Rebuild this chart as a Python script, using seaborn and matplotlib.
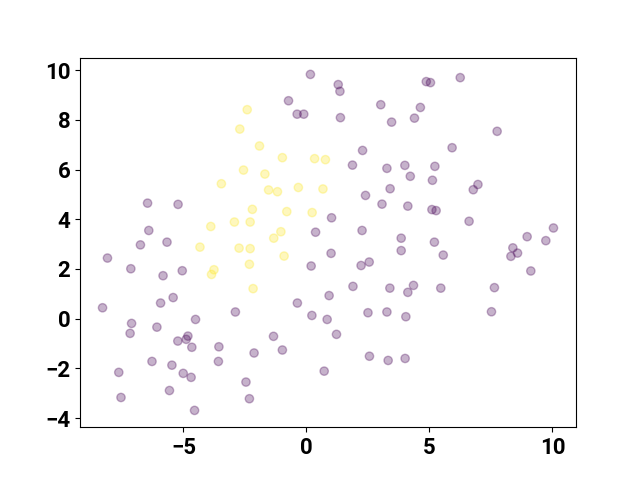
import pandas as pd
import matplotlib
matplotlib.use("Agg")
import matplotlib.pyplot as plt
import seaborn as sns

# --- data ---
# cluster 1 (yellow)
yellow_x = [-2.41, -2.71, -1.91, -0.98, 0.33, 0.77, -2.56, -1.69, -3.46, -1.54,
            -1.18, -0.33, 0.67, -2.20, -0.80, 0.23, -2.93, -2.29, -3.89, -1.04,
            -1.33, -4.33, -2.74, -2.29, -3.76, -3.86, -2.32, -0.91, -2.17]
yellow_y = [8.41, 7.63, 6.95, 6.48, 6.44, 6.40, 5.98, 5.82, 5.43, 5.18,
            5.11, 5.28, 5.22, 4.40, 4.31, 4.27, 3.89, 3.89, 3.71, 3.50,
            3.24, 2.88, 2.84, 2.82, 1.97, 1.78, 2.19, 2.52, 1.21]

# cluster 0 (purple)
purple_x = [0.16, -0.73, -0.38, -0.11, -6.46, -5.22, 1.02, -6.41, 0.37, -6.75,
            -5.67, -8.09, -7.14, -5.05, -5.83, 0.19, 1.00, -5.42, -5.93, -0.37,
            0.92, -8.29, -2.89, 0.22, 0.84, -4.51, -7.11, -6.08, -7.17, -4.82,
            -4.89, -5.23, -4.66, -3.56, -1.34, -0.98, -2.13, -6.28, -3.58, -5.47,
            -7.63, -5.01, -4.69, 0.72, -2.46, -5.57, -7.54, -2.32, -4.55, 1.29,
            1.36, 4.87, 5.04, 6.25, 3.02, 4.63, 1.38, 3.46, 4.39, 7.75,
            2.28, 5.92, 1.87, 3.27, 4.00, 5.22, 4.22, 5.12, 6.97, 6.78,
            2.40, 3.40, 3.07, 4.12, 5.10, 5.27, 6.61, 2.26, 3.85, 5.20,
            10.04, 8.97, 9.73, 8.39, 3.85, 5.56, 8.58, 8.31, 2.22, 2.55,
            9.12, 1.89, 3.39, 4.35, 4.12, 5.46, 7.64, 2.50, 3.27, 4.04,
            7.52, 1.22, 2.56, 3.32, 4.01]
purple_y = [9.83, 8.77, 8.23, 8.23, 4.65, 4.60, 4.06, 3.55, 3.48, 2.97,
            3.08, 2.44, 2.01, 1.93, 1.73, 2.12, 2.63, 0.85, 0.63, 0.63,
            0.93, 0.44, 0.27, 0.13, -0.03, -0.03, -0.19, -0.34, -0.59, -0.70,
            -0.83, -0.90, -1.15, -1.13, -0.71, -1.26, -1.38, -1.72, -1.72, -1.87,
            -2.16, -2.20, -2.36, -2.11, -2.55, -2.89, -3.17, -3.22, -3.69, 9.42,
            9.15, 9.54, 9.50, 9.70, 8.61, 8.50, 8.09, 7.91, 8.07, 7.54,
            6.77, 6.88, 6.18, 6.05, 6.17, 6.13, 5.73, 5.57, 5.40, 5.19,
            4.96, 5.23, 4.61, 4.53, 4.39, 4.35, 3.92, 3.55, 3.24, 3.08,
            3.65, 3.30, 3.14, 2.85, 2.74, 2.56, 2.64, 2.51, 2.14, 2.28,
            1.92, 1.30, 1.23, 1.34, 1.06, 1.23, 1.25, 0.24, 0.27, 0.08,
            0.28, -0.63, -1.51, -1.68, -1.60]

df = pd.DataFrame({
    "x": purple_x + yellow_x,
    "y": purple_y + yellow_y,
    "label": [0] * len(purple_x) + [1] * len(yellow_x),
})

plt.rcParams['font.family'] = ['Roboto', 'DejaVu Sans']
plt.rcParams['font.weight'] = 'bold'
plt.rcParams['font.size'] = 16

fig, ax = plt.subplots(figsize=(6.4, 4.8), dpi=100)
sns.scatterplot(
    data=df, x="x", y="y", hue="label",
    palette={0: "#440154", 1: "#fde725"},
    s=36, alpha=0.3, edgecolor="face", linewidth=1,
    legend=False, ax=ax,
)
ax.set_xlabel("")
ax.set_ylabel("")
ax.set_xticks([-5, 0, 5, 10])
ax.set_yticks([-4, -2, 0, 2, 4, 6, 8, 10])

fig.savefig("out.png", dpi=100)
